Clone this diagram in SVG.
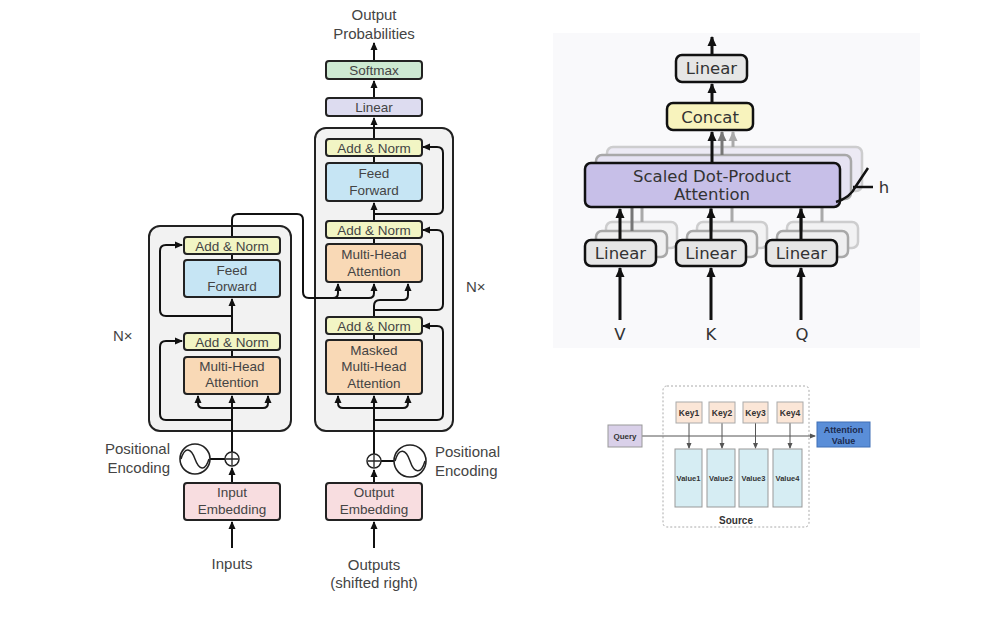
<svg xmlns="http://www.w3.org/2000/svg" width="989" height="618" viewBox="0 0 989 618">
<defs>
<marker id="aL" markerUnits="userSpaceOnUse" markerWidth="8" markerHeight="8" refX="7" refY="4" orient="auto"><path d="M0,0.5 L8,4 L0,7.5 z" fill="#111"/></marker>
<marker id="aR" markerUnits="userSpaceOnUse" markerWidth="10" markerHeight="10" refX="9" refY="5" orient="auto"><path d="M0,0.5 L10,5 L0,9.5 z" fill="#111"/></marker>
<marker id="aG1" markerUnits="userSpaceOnUse" markerWidth="10" markerHeight="10" refX="9" refY="5" orient="auto"><path d="M0,0.5 L10,5 L0,9.5 z" fill="#777"/></marker>
<marker id="aG2" markerUnits="userSpaceOnUse" markerWidth="10" markerHeight="10" refX="9" refY="5" orient="auto"><path d="M0,0.5 L10,5 L0,9.5 z" fill="#aaa"/></marker>
<marker id="aS" markerUnits="userSpaceOnUse" markerWidth="6" markerHeight="6" refX="5" refY="3" orient="auto"><path d="M0,0.5 L6,3 L0,5.5 z" fill="#555"/></marker>
</defs>
<style>
.outer{fill:#f2f2f2;stroke:#222;stroke-width:2}
.box{stroke:#222;stroke-width:2}
.an{fill:#f2f5c4}
.ff{fill:#c6e5f4}
.mha{fill:#f9d9b6}
.emb{fill:#f8dde0}
.sm{fill:#cde9d2}
.lin{fill:#dddcf0}
.t{font-family:"Liberation Sans",Arial,sans-serif;font-size:13.5px;fill:#444;text-anchor:middle}
.tl{font-family:"Liberation Sans",Arial,sans-serif;font-size:15px;fill:#444}
.c{fill:none;stroke:#111;stroke-width:2}
.rb{stroke:#111;stroke-width:2.5}
.rt{font-family:"DejaVu Sans","Liberation Sans",sans-serif;font-size:16.5px;fill:#333;text-anchor:middle}
.rc{fill:none;stroke:#111;stroke-width:3}
.sb{font-family:"Liberation Sans",Arial,sans-serif;font-weight:bold;fill:#333;text-anchor:middle}
.ka{fill:none;stroke:#555;stroke-width:1}
</style>
<rect width="989" height="618" fill="#ffffff"/>

<!-- ===== Transformer ===== -->
<g id="encoder-stack">
<rect class="outer" x="149" y="226" width="142" height="205" rx="11"/>
</g>
<g id="decoder-stack">
<rect class="outer" x="315" y="128" width="138" height="303" rx="11"/>
</g>

<g id="connectors">
<path class="c" d="M232,548 V522" marker-end="url(#aL)"/>
<path class="c" d="M232,483 V468" marker-end="url(#aL)"/>
<path class="c" d="M225,459 H210"/>
<path class="c" d="M232,452 V396" marker-end="url(#aL)"/>
<path class="c" d="M232,408 H203 Q198,408 198,403 V396" marker-end="url(#aL)"/>
<path class="c" d="M232,408 H263 Q268,408 268,403 V396" marker-end="url(#aL)"/>
<path class="c" d="M232,420 H166 Q160,420 160,414 V347 Q160,341 166,341 H182" marker-end="url(#aL)"/>
<path class="c" d="M232,357 V350"/>
<path class="c" d="M232,333 V299" marker-end="url(#aL)"/>
<path class="c" d="M232,316 H166 Q160,316 160,310 V251 Q160,245 166,245 H182" marker-end="url(#aL)"/>
<path class="c" d="M232,260 V254"/>
<path class="c" d="M232,237 V220 Q232,214 238,214 H297 Q303,214 303,220 V292 Q303,298 309,298 H333 Q338,298 338,293 V284" marker-end="url(#aL)"/>
<path class="c" d="M333,298 H369 Q374,298 374,293 V284" marker-end="url(#aL)"/>
<path class="c" d="M374,548 V522" marker-end="url(#aL)"/>
<path class="c" d="M374,483 V470" marker-end="url(#aL)"/>
<path class="c" d="M381,461 H394"/>
<path class="c" d="M374,454 V396" marker-end="url(#aL)"/>
<path class="c" d="M374,408 H343 Q338,408 338,403 V396" marker-end="url(#aL)"/>
<path class="c" d="M374,408 H403 Q408,408 408,403 V396" marker-end="url(#aL)"/>
<path class="c" d="M374,420 H437 Q443,420 443,414 V332 Q443,326 437,326 H423" marker-end="url(#aL)"/>
<path class="c" d="M374,340 V334"/>
<path class="c" d="M374,317 V306 Q374,300 380,300 H403 Q408,300 408,295 V284" marker-end="url(#aL)"/>
<path class="c" d="M374,310 H437 Q443,310 443,304 V236 Q443,230 437,230 H423" marker-end="url(#aL)"/>
<path class="c" d="M374,244 V238"/>
<path class="c" d="M374,221 V203" marker-end="url(#aL)"/>
<path class="c" d="M374,214 H437 Q443,214 443,208 V153 Q443,147 437,147 H423" marker-end="url(#aL)"/>
<path class="c" d="M374,163 V156"/>
<path class="c" d="M374,139 V118" marker-end="url(#aL)"/>
<path class="c" d="M374,98 V81" marker-end="url(#aL)"/>
<path class="c" d="M374,61 V43" marker-end="url(#aL)"/>
</g>

<g id="enc-addnorm2"><rect class="box an" x="184" y="237" width="96" height="17" rx="3"/><text class="t" x="232" y="250.5">Add &amp; Norm</text></g>
<g id="enc-ff"><rect class="box ff" x="184" y="260" width="96" height="37" rx="3"/><text class="t" x="232" y="275">Feed</text><text class="t" x="232" y="291">Forward</text></g>
<g id="enc-addnorm1"><rect class="box an" x="184" y="333" width="96" height="17" rx="3"/><text class="t" x="232" y="346.5">Add &amp; Norm</text></g>
<g id="enc-mha"><rect class="box mha" x="184" y="357" width="96" height="37" rx="3"/><text class="t" x="232" y="371">Multi-Head</text><text class="t" x="232" y="387">Attention</text></g>
<g id="input-embedding"><rect class="box emb" x="184" y="483" width="96" height="37" rx="3"/><text class="t" x="232" y="497">Input</text><text class="t" x="232" y="514">Embedding</text></g>
<g id="enc-plus"><circle cx="232" cy="459" r="7" fill="#fff" stroke="#222" stroke-width="1.5"/><path d="M226,459 H238 M232,453 V465" stroke="#222" stroke-width="1.3"/></g>
<g id="enc-posenc"><circle cx="195" cy="459" r="15" fill="#fff" stroke="#222" stroke-width="1.6"/><path d="M181,459 C185,446 191,448 195,459 S205,472 209,459" fill="none" stroke="#222" stroke-width="1.5"/>
<text class="tl" x="170" y="454" text-anchor="end">Positional</text><text class="tl" x="170" y="473" text-anchor="end">Encoding</text></g>
<g id="inputs-label"><text class="tl" x="232" y="569" text-anchor="middle">Inputs</text></g>
<g id="enc-nx"><text class="tl" x="113" y="341">N×</text></g>

<g id="out-prob"><text class="tl" x="374" y="20" text-anchor="middle">Output</text><text class="tl" x="374" y="39" text-anchor="middle">Probabilities</text></g>
<g id="softmax"><rect class="box sm" x="326" y="61" width="96" height="18" rx="3"/><text class="t" x="374" y="75">Softmax</text></g>
<g id="linear"><rect class="box lin" x="326" y="98" width="96" height="18" rx="3"/><text class="t" x="374" y="112">Linear</text></g>
<g id="dec-addnorm3"><rect class="box an" x="326" y="139" width="96" height="17" rx="3"/><text class="t" x="374" y="152.5">Add &amp; Norm</text></g>
<g id="dec-ff"><rect class="box ff" x="326" y="163" width="96" height="38" rx="3"/><text class="t" x="374" y="178">Feed</text><text class="t" x="374" y="195">Forward</text></g>
<g id="dec-addnorm2"><rect class="box an" x="326" y="221" width="96" height="17" rx="3"/><text class="t" x="374" y="234.5">Add &amp; Norm</text></g>
<g id="dec-mha"><rect class="box mha" x="326" y="244" width="96" height="38" rx="3"/><text class="t" x="374" y="259">Multi-Head</text><text class="t" x="374" y="276">Attention</text></g>
<g id="dec-addnorm1"><rect class="box an" x="326" y="317" width="96" height="17" rx="3"/><text class="t" x="374" y="330.5">Add &amp; Norm</text></g>
<g id="dec-masked-mha"><rect class="box mha" x="326" y="340" width="96" height="54" rx="3"/><text class="t" x="374" y="355">Masked</text><text class="t" x="374" y="371">Multi-Head</text><text class="t" x="374" y="388">Attention</text></g>
<g id="output-embedding"><rect class="box emb" x="326" y="483" width="96" height="37" rx="3"/><text class="t" x="374" y="497">Output</text><text class="t" x="374" y="514">Embedding</text></g>
<g id="dec-plus"><circle cx="374" cy="461" r="7" fill="#fff" stroke="#222" stroke-width="1.5"/><path d="M368,461 H380 M374,455 V467" stroke="#222" stroke-width="1.3"/></g>
<g id="dec-posenc"><circle cx="410" cy="461" r="16" fill="#fff" stroke="#222" stroke-width="1.6"/><path d="M395,461 C399,447 406,449 410,461 S421,475 425,461" fill="none" stroke="#222" stroke-width="1.5"/>
<text class="tl" x="435" y="457">Positional</text><text class="tl" x="435" y="476">Encoding</text></g>
<g id="outputs-label"><text class="tl" x="374" y="570" text-anchor="middle">Outputs</text><text class="tl" x="374" y="588" text-anchor="middle">(shifted right)</text></g>
<g id="dec-nx"><text class="tl" x="466" y="292">N×</text></g>

<!-- ===== Multi-Head Attention ===== -->
<g id="mha-panel"><rect x="553" y="33" width="367" height="315" fill="#f9f9fb"/></g>
<g id="mha-stack-copies" opacity="0.55">
<rect x="607" y="147" width="255" height="44" rx="6" fill="#e2def0" stroke="#aaa" stroke-width="2.5"/>
<rect x="596" y="155" width="255" height="44" rx="6" fill="#d6d0ec" stroke="#666" stroke-width="2.5"/>
<rect x="606" y="222" width="71" height="26" rx="6" fill="#eee" stroke="#aaa" stroke-width="2.5"/>
<rect x="596" y="231" width="71" height="26" rx="6" fill="#e8e8e8" stroke="#666" stroke-width="2.5"/>
<rect x="697" y="222" width="70" height="26" rx="6" fill="#eee" stroke="#aaa" stroke-width="2.5"/>
<rect x="687" y="231" width="70" height="26" rx="6" fill="#e8e8e8" stroke="#666" stroke-width="2.5"/>
<rect x="787" y="222" width="71" height="26" rx="6" fill="#eee" stroke="#aaa" stroke-width="2.5"/>
<rect x="777" y="231" width="71" height="26" rx="6" fill="#e8e8e8" stroke="#666" stroke-width="2.5"/>
</g>
<g id="mha-connectors">
<path d="M632,231 V207 M711,231 V207 M801,231 V207" stroke="#777" stroke-width="3" fill="none"/>
<path d="M642,222 V207 M732,222 V207 M822,222 V207" stroke="#aaa" stroke-width="3" fill="none"/>
<path class="rc" d="M620,320 V268" marker-end="url(#aR)"/>
<path class="rc" d="M711,320 V268" marker-end="url(#aR)"/>
<path class="rc" d="M801,320 V268" marker-end="url(#aR)"/>
<path class="rc" d="M620,240 V209" marker-end="url(#aR)"/>
<path class="rc" d="M711,240 V209" marker-end="url(#aR)"/>
<path class="rc" d="M801,240 V209" marker-end="url(#aR)"/>
<path class="rc" d="M712,163 V132" marker-end="url(#aR)"/>
<path d="M722,155 V132" fill="none" stroke="#777" stroke-width="3" marker-end="url(#aG1)"/>
<path d="M733,147 V132" fill="none" stroke="#aaa" stroke-width="3" marker-end="url(#aG2)"/>
<path class="rc" d="M712,103 V84" marker-end="url(#aR)"/>
<path class="rc" d="M712,55 V37" marker-end="url(#aR)"/>
</g>
<g id="mha-linear-out"><rect class="rb" x="676" y="55" width="71" height="27" rx="6" fill="#e6e6e6"/><text class="rt" x="711.5" y="74">Linear</text></g>
<g id="mha-concat"><rect class="rb" x="667" y="103" width="86" height="27" rx="6" fill="#f8f3bd"/><text class="rt" x="710" y="122.5">Concat</text></g>
<g id="mha-sdpa"><rect class="rb" x="585" y="163" width="255" height="44" rx="6" fill="#c7bfe8"/><text class="rt" x="712" y="182">Scaled Dot-Product</text><text class="rt" x="712" y="200">Attention</text></g>
<g id="mha-h"><path d="M836,202 Q850,198 856,186 L868,168" fill="none" stroke="#111" stroke-width="2.5"/><path d="M853,187 H873" stroke="#111" stroke-width="2.5"/><text class="rt" x="884" y="193">h</text></g>
<g id="mha-linear-v"><rect class="rb" x="585" y="240" width="71" height="26" rx="6" fill="#e6e6e6"/><text class="rt" x="620.5" y="259">Linear</text></g>
<g id="mha-linear-k"><rect class="rb" x="676" y="240" width="70" height="26" rx="6" fill="#e6e6e6"/><text class="rt" x="711" y="259">Linear</text></g>
<g id="mha-linear-q"><rect class="rb" x="766" y="240" width="71" height="26" rx="6" fill="#e6e6e6"/><text class="rt" x="801.5" y="259">Linear</text></g>
<g id="mha-labels"><text class="rt" x="620" y="340" font-size="17">V</text><text class="rt" x="711" y="340" font-size="17">K</text><text class="rt" x="802" y="340" font-size="17">Q</text></g>

<!-- ===== Query / Key / Value ===== -->
<g id="source"><rect x="663" y="386" width="146" height="141" rx="4" fill="none" stroke="#aaa" stroke-width="1" stroke-dasharray="2,2"/><text class="sb" x="736" y="524" font-size="10">Source</text></g>
<g id="qkv-connectors">
<path class="ka" d="M642,436 H815" marker-end="url(#aS)"/>
<path class="ka" d="M689,423 V448" marker-end="url(#aS)"/>
<path class="ka" d="M722,423 V448" marker-end="url(#aS)"/>
<path class="ka" d="M755.5,423 V448" marker-end="url(#aS)"/>
<path class="ka" d="M790,423 V448" marker-end="url(#aS)"/>
</g>
<g id="query"><rect x="608" y="425" width="34" height="22" fill="#d9d0e9" stroke="#999" stroke-width="1"/><text class="sb" x="625" y="439" font-size="8">Query</text></g>
<g id="key1"><rect x="676" y="402" width="26" height="21" fill="#fbe6d7" stroke="#aaa" stroke-width="1"/><text class="sb" x="689" y="416" font-size="8.5">Key1</text></g>
<g id="key2"><rect x="709" y="402" width="26" height="21" fill="#fbe6d7" stroke="#aaa" stroke-width="1"/><text class="sb" x="722" y="416" font-size="8.5">Key2</text></g>
<g id="key3"><rect x="743" y="402" width="25" height="21" fill="#fbe6d7" stroke="#aaa" stroke-width="1"/><text class="sb" x="755.5" y="416" font-size="8.5">Key3</text></g>
<g id="key4"><rect x="777" y="402" width="26" height="21" fill="#fbe6d7" stroke="#aaa" stroke-width="1"/><text class="sb" x="790" y="416" font-size="8.5">Key4</text></g>
<g id="value1"><rect x="675" y="449" width="27" height="58" fill="#d6edf3" stroke="#999" stroke-width="1"/><text class="sb" x="688.5" y="481" font-size="7.5">Value1</text></g>
<g id="value2"><rect x="707" y="449" width="28" height="58" fill="#d6edf3" stroke="#999" stroke-width="1"/><text class="sb" x="721" y="481" font-size="7.5">Value2</text></g>
<g id="value3"><rect x="739" y="449" width="29" height="58" fill="#d6edf3" stroke="#999" stroke-width="1"/><text class="sb" x="753.5" y="481" font-size="7.5">Value3</text></g>
<g id="value4"><rect x="773" y="449" width="29" height="58" fill="#d6edf3" stroke="#999" stroke-width="1"/><text class="sb" x="787.5" y="481" font-size="7.5">Value4</text></g>
<g id="attention-value"><rect x="817" y="422" width="53" height="25" fill="#5a8ed8" stroke="#3f6fb5" stroke-width="1"/><text class="sb" x="843.5" y="433" font-size="9" style="fill:#1b2a4e">Attention</text><text class="sb" x="843.5" y="443.5" font-size="9" style="fill:#1b2a4e">Value</text></g>
</svg>
